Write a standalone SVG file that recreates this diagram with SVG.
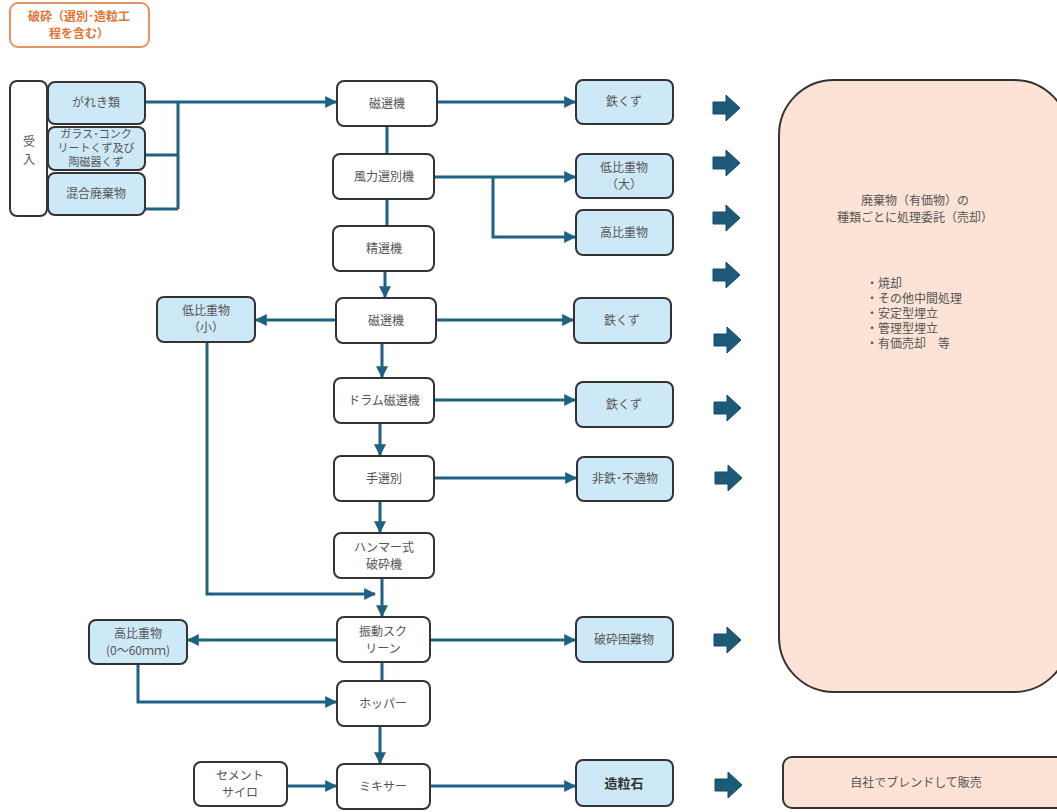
<svg xmlns="http://www.w3.org/2000/svg" width="1057" height="812" viewBox="0 0 1057 812">
<defs>
<style>
text{font-family:"Noto Sans CJK JP","Noto Sans",sans-serif;font-size:12px;fill:#555;text-anchor:middle}
.w{fill:#fff;stroke:#333;stroke-width:2}
.b{fill:#cde9f7;stroke:#333;stroke-width:2}
.p{fill:#fce3d6;stroke:#333;stroke-width:2}
.c{fill:none;stroke:#1d6284;stroke-width:3}
.ca{fill:none;stroke:#1d6284;stroke-width:3;marker-end:url(#ah)}
.ba{fill:#1d5a7a;stroke:#164a66;stroke-width:1}
</style>
<marker id="ah" viewBox="0 0 10 10" refX="9" refY="5" markerWidth="4" markerHeight="4" orient="auto" markerUnits="strokeWidth">
<path d="M0,0 L10,5 L0,10 Z" fill="#1d6284"/>
</marker>
<path id="bar" d="M0,-6 H13 V-13 L27,0 L13,13 V6 H0 Z"/>
</defs>
<rect width="1057" height="812" fill="#fff"/>

<g id="title">
<rect x="10" y="3" width="139" height="44" rx="8" fill="#fff" stroke="#e8935f" stroke-width="2"/>
<text x="79" y="21" style="fill:#e07535;font-weight:bold">破砕（選別･造粒工</text>
<text x="79" y="38" style="fill:#e07535;font-weight:bold">程を含む）</text>
</g>

<g id="connectors">
<path class="ca" d="M145,102 H336"/>
<path class="c" d="M145,155 H178 M145,209 H178 M178,102 V209"/>
<path class="ca" d="M437,102 H575"/>
<path class="c" d="M387,126 V154 M387,199 V226"/>
<path class="ca" d="M434,177 H575"/>
<path class="ca" d="M493,177 V237 H575"/>
<path class="ca" d="M385,271 V297"/>
<path class="ca" d="M336,320 H256"/>
<path class="ca" d="M436,320 H573"/>
<path class="ca" d="M382,343 V377"/>
<path class="ca" d="M434,400 H575"/>
<path class="ca" d="M380,423 V455"/>
<path class="ca" d="M434,478 H576"/>
<path class="ca" d="M380,501 V532"/>
<path class="ca" d="M382,578 V616"/>
<path class="ca" d="M207,342 V594 H375"/>
<path class="ca" d="M337,640 H188"/>
<path class="ca" d="M430,640 H575"/>
<path class="c" d="M382,662 V681"/>
<path class="ca" d="M138,664 V702 H336"/>
<path class="ca" d="M380,726 V763"/>
<path class="ca" d="M287,786 H336"/>
<path class="ca" d="M430,786 H575"/>
</g>

<g id="ukeire">
<rect class="w" x="10" y="81" width="37" height="135" rx="7"/>
<text x="29" y="146">受</text>
<text x="29" y="164">入</text>
</g>
<g id="gareki"><rect class="b" x="48" y="82" width="97" height="42" rx="7"/><text x="96" y="107">がれき類</text></g>
<g id="glass"><rect class="b" x="48" y="127" width="97" height="43" rx="7"/>
<text x="96" y="138" style="font-size:11px">ガラス･コンク</text>
<text x="96" y="152" style="font-size:11px">リートくず及び</text>
<text x="96" y="166" style="font-size:11px">陶磁器くず</text></g>
<g id="kongo"><rect class="b" x="48" y="173" width="97" height="42" rx="7"/><text x="96" y="198">混合廃棄物</text></g>

<g id="jisenki1"><rect class="w" x="337" y="81" width="100" height="45" rx="7"/><text x="387" y="108">磁選機</text></g>
<g id="furyoku"><rect class="w" x="333" y="154" width="101" height="45" rx="7"/><text x="384" y="181">風力選別機</text></g>
<g id="seisenki"><rect class="w" x="333" y="226" width="101" height="45" rx="7"/><text x="384" y="253">精選機</text></g>
<g id="jisenki2"><rect class="w" x="336" y="298" width="100" height="45" rx="7"/><text x="386" y="325">磁選機</text></g>
<g id="drum"><rect class="w" x="334" y="378" width="100" height="45" rx="7"/><text x="384" y="405">ドラム磁選機</text></g>
<g id="tesenbetsu"><rect class="w" x="334" y="456" width="100" height="45" rx="7"/><text x="384" y="483">手選別</text></g>
<g id="hammer"><rect class="w" x="334" y="533" width="100" height="45" rx="7"/><text x="384" y="552">ハンマー式</text><text x="384" y="569">破砕機</text></g>
<g id="shindo"><rect class="w" x="337" y="617" width="93" height="45" rx="7"/><text x="383" y="636">振動スク</text><text x="383" y="653">リーン</text></g>
<g id="hopper"><rect class="w" x="337" y="681" width="93" height="45" rx="7"/><text x="383" y="708">ホッパー</text></g>
<g id="mixer"><rect class="w" x="337" y="764" width="93" height="45" rx="7"/><text x="383" y="791">ミキサー</text></g>

<g id="tetsu1"><rect class="b" x="576" y="80" width="97" height="44" rx="7"/><text x="624" y="106">鉄くず</text></g>
<g id="teihiju-dai"><rect class="b" x="576" y="154" width="97" height="44" rx="7"/><text x="624" y="172">低比重物</text><text x="624" y="189">（大）</text></g>
<g id="kohiju1"><rect class="b" x="576" y="210" width="97" height="45" rx="7"/><text x="624" y="237">高比重物</text></g>
<g id="tetsu2"><rect class="b" x="574" y="298" width="97" height="45" rx="7"/><text x="622" y="325">鉄くず</text></g>
<g id="tetsu3"><rect class="b" x="576" y="382" width="97" height="45" rx="7"/><text x="624" y="409">鉄くず</text></g>
<g id="hitetsu"><rect class="b" x="577" y="457" width="96" height="44" rx="7"/><text x="625" y="483">非鉄･不適物</text></g>
<g id="konnan"><rect class="b" x="576" y="617" width="97" height="45" rx="7"/><text x="624" y="644">破砕困難物</text></g>
<g id="zoryuseki"><rect class="b" x="576" y="760" width="97" height="46" rx="7"/><text x="624" y="788" style="font-size:13px;font-weight:bold;fill:#333">造粒石</text></g>

<g id="teihiju-sho"><rect class="b" x="157" y="297" width="98" height="45" rx="7"/><text x="206" y="315">低比重物</text><text x="206" y="332">（小）</text></g>
<g id="kohiju2"><rect class="b" x="89" y="620" width="98" height="44" rx="7"/><text x="138" y="638">高比重物</text><text x="138" y="655">(0～60ｍｍ)</text></g>
<g id="cement"><rect class="w" x="194" y="762" width="93" height="44" rx="7"/><text x="240" y="780">セメント</text><text x="240" y="797">サイロ</text></g>

<g id="block-arrows">
<use href="#bar" class="ba" x="713" y="108"/>
<use href="#bar" class="ba" x="713" y="163"/>
<use href="#bar" class="ba" x="713" y="218"/>
<use href="#bar" class="ba" x="713" y="275"/>
<use href="#bar" class="ba" x="714" y="340"/>
<use href="#bar" class="ba" x="714" y="408"/>
<use href="#bar" class="ba" x="715" y="478"/>
<use href="#bar" class="ba" x="714" y="640"/>
<use href="#bar" class="ba" x="715" y="785"/>
</g>

<g id="itaku">
<rect class="p" x="779" y="80" width="290" height="612" rx="55"/>
<text x="915" y="205">廃棄物（有価物）の</text>
<text x="915" y="222">種類ごとに処理委託（売却）</text>
<g style="text-anchor:start">
<text x="866" y="288" style="text-anchor:start">・焼却</text>
<text x="866" y="303" style="text-anchor:start">・その他中間処理</text>
<text x="866" y="318" style="text-anchor:start">・安定型埋立</text>
<text x="866" y="333" style="text-anchor:start">・管理型埋立</text>
<text x="866" y="348" style="text-anchor:start">・有価売却　等</text>
</g>
</g>
<g id="hanbai">
<rect class="p" x="783" y="757" width="285" height="51" rx="9"/>
<text x="916" y="787">自社でブレンドして販売</text>
</g>
</svg>
